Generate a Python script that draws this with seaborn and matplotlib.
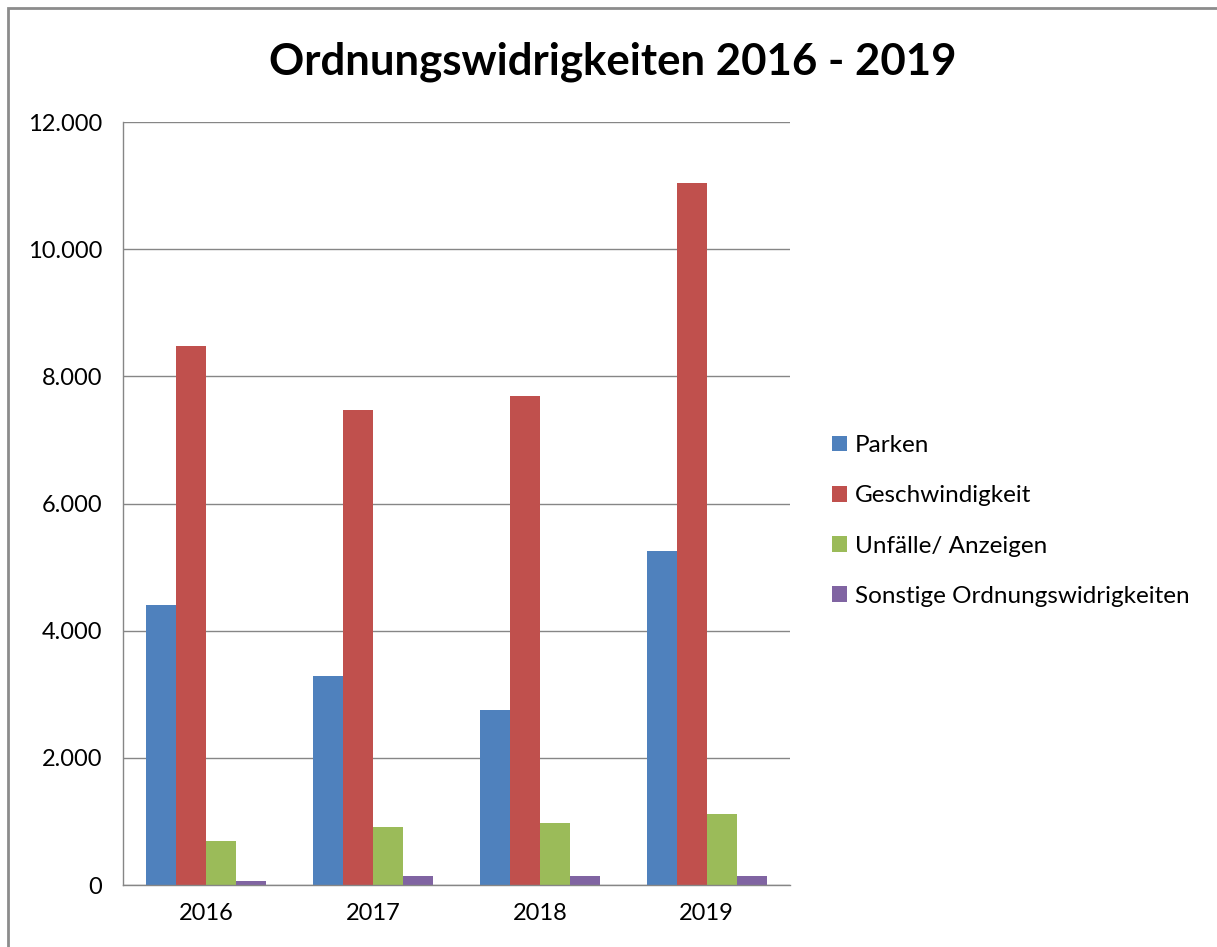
import matplotlib
matplotlib.use('Agg')
import matplotlib.pyplot as plt
import seaborn as sns
import pandas as pd
from matplotlib.ticker import FuncFormatter, MultipleLocator
from matplotlib.patches import Rectangle

# === Data ===
years = ["2016", "2017", "2018", "2019"]
parken = [4400, 3290, 2750, 5250]
geschwindigkeit = [8480, 7470, 7690, 11040]
unfaelle = [690, 910, 970, 1110]
sonstige = [65, 140, 140, 140]

series = ["Parken", "Geschwindigkeit", "Unfälle/ Anzeigen", "Sonstige Ordnungswidrigkeiten"]
colors = ["#4F81BD", "#C0504D", "#9BBB59", "#8064A2"]

rows = []
for name, vals in zip(series, [parken, geschwindigkeit, unfaelle, sonstige]):
    for y, v in zip(years, vals):
        rows.append({"Jahr": y, "Serie": name, "Wert": v})
df = pd.DataFrame(rows)

sns.set_theme(style="white")
plt.rcParams['font.family'] = ['Lato', 'DejaVu Sans']
plt.rcParams['text.color'] = 'black'

fig = plt.figure(figsize=(12.17, 9.47), dpi=100)
ax = fig.add_axes([123 / 1217, 1 - 885 / 947, (790 - 123) / 1217, (885 - 122) / 947])

sns.barplot(data=df, x="Jahr", y="Wert", hue="Serie", hue_order=series,
            palette=colors, width=0.72, gap=0, saturation=1, ax=ax,
            linewidth=0, errorbar=None)

ax.set_ylim(0, 12000)
ax.yaxis.set_major_locator(MultipleLocator(2000))
ax.yaxis.set_major_formatter(FuncFormatter(lambda v, p: f"{int(v):,}".replace(",", ".")))
ax.grid(axis="y", color="#868686", linewidth=1)
ax.set_axisbelow(True)
ax.set_xlabel("")
ax.set_ylabel("")
for s in ["top", "right"]:
    ax.spines[s].set_visible(False)
for s in ["left", "bottom"]:
    ax.spines[s].set_color("#868686")
    ax.spines[s].set_linewidth(1)
ax.tick_params(axis="y", labelsize=17, colors="#000000", length=5, color="#868686", pad=10)
ax.tick_params(axis="x", labelsize=17, colors="#000000", length=0, pad=13)

leg = ax.legend(loc="center left", bbox_to_anchor=(832 / 1217, 1 - 521 / 947),
                bbox_transform=fig.transFigure, frameon=False, fontsize=17.5,
                handlelength=0.6, handleheight=0.6, handletextpad=0.35,
                labelspacing=1.2, borderaxespad=0, borderpad=0)
for t in leg.get_texts():
    t.set_color("black")

fig.text(613 / 1217, 1 - 62 / 947, "Ordnungswidrigkeiten 2016 - 2019",
         ha="center", va="center", fontsize=31.5, fontweight="bold", color="black")

fig.patches.append(Rectangle((8 / 1217, -0.05), 1.2, 1 - 8 / 947 + 0.05,
                             transform=fig.transFigure, fill=False,
                             edgecolor="#8c8c8c", linewidth=2))

fig.savefig("out.png", dpi=100)
